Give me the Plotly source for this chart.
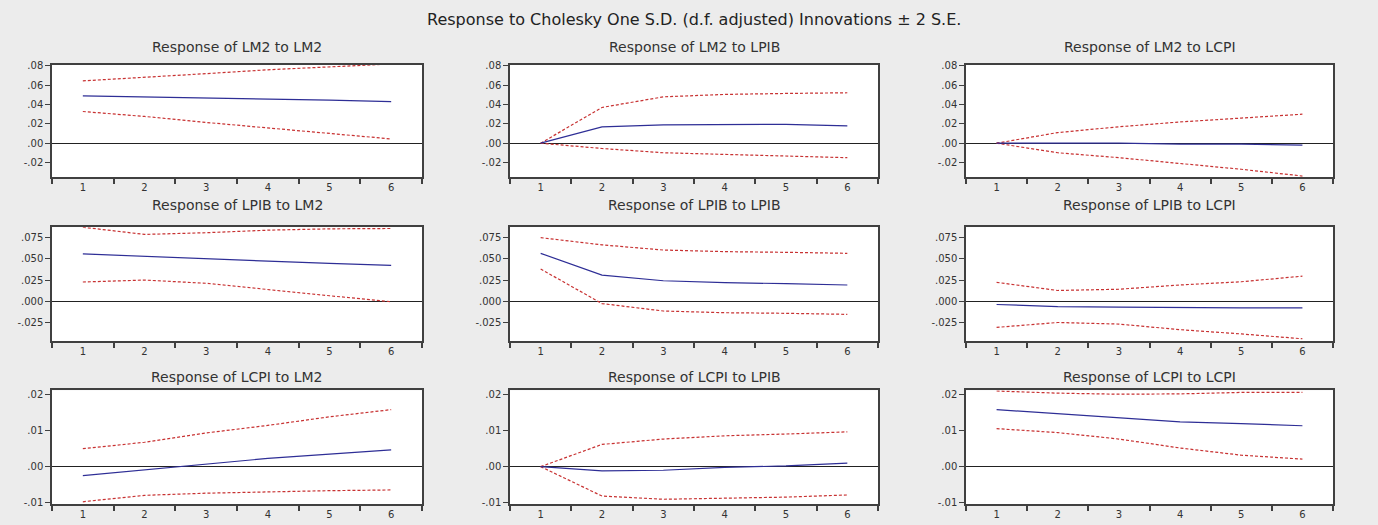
import plotly.graph_objects as go

periods = [1, 2, 3, 4, 5, 6]

# Row 1: Response of LM2
lm2_lm2 = [0.049, 0.048, 0.047, 0.046, 0.0445, 0.043]
lm2_lm2_up = [0.0645, 0.068, 0.072, 0.076, 0.079, 0.082]
lm2_lm2_lo = [0.0328, 0.0277, 0.0215, 0.0157, 0.0106, 0.0044]

lm2_lpib = [0.0, 0.0168, 0.019, 0.0195, 0.0195, 0.018]
lm2_lpib_up = [0.0, 0.037, 0.048, 0.0505, 0.0515, 0.0522]
lm2_lpib_lo = [0.0, -0.0055, -0.0099, -0.0116, -0.013, -0.015]

lm2_lcpi = [0.0, 0.0, 0.0, -0.001, -0.001, -0.002]
lm2_lcpi_up = [0.0, 0.011, 0.017, 0.022, 0.026, 0.030]
lm2_lcpi_lo = [0.0, -0.0099, -0.015, -0.021, -0.027, -0.034]

# Row 2: Response of LPIB
lpib_lm2 = [0.0558, 0.0527, 0.0496, 0.0473, 0.0446, 0.0423]
lpib_lm2_up = [0.0873, 0.0788, 0.0808, 0.0838, 0.0854, 0.0858]
lpib_lm2_lo = [0.0227, 0.025, 0.0212, 0.0135, 0.0065, -0.0005]

lpib_lpib = [0.0565, 0.0308, 0.0242, 0.0219, 0.0208, 0.0192]
lpib_lpib_up = [0.075, 0.0665, 0.0604, 0.0585, 0.0577, 0.0565]
lpib_lpib_lo = [0.038, -0.0027, -0.0115, -0.0135, -0.0142, -0.0154]

lpib_lcpi = [-0.0038, -0.0062, -0.0069, -0.0077, -0.0077, -0.0077]
lpib_lcpi_up = [0.0223, 0.0127, 0.0142, 0.0192, 0.023, 0.0296]
lpib_lcpi_lo = [-0.0308, -0.025, -0.0269, -0.0335, -0.0385, -0.0442]

# Row 3: Response of LCPI
lcpi_lm2 = [-0.0025, -0.0009, 0.0005, 0.0023, 0.0035, 0.0047]
lcpi_lm2_up = [0.005, 0.0068, 0.0094, 0.0115, 0.0139, 0.0159]
lcpi_lm2_lo = [-0.0098, -0.008, -0.0074, -0.007, -0.0067, -0.0065]

lcpi_lpib = [0.0, -0.0012, -0.001, -0.0002, 0.0002, 0.001]
lcpi_lpib_up = [0.0, 0.0062, 0.0077, 0.0086, 0.0091, 0.0097]
lcpi_lpib_lo = [0.0, -0.0082, -0.0091, -0.0088, -0.0085, -0.0079]

lcpi_lcpi = [0.0159, 0.0148, 0.0136, 0.0125, 0.012, 0.0114]
lcpi_lcpi_up = [0.0211, 0.0205, 0.0202, 0.0203, 0.0207, 0.0207]
lcpi_lcpi_lo = [0.0106, 0.0095, 0.0077, 0.0052, 0.0032, 0.0021]

titles = [
    "Response of LM2 to LM2", "Response of LM2 to LPIB", "Response of LM2 to LCPI",
    "Response of LPIB to LM2", "Response of LPIB to LPIB", "Response of LPIB to LCPI",
    "Response of LCPI to LM2", "Response of LCPI to LPIB", "Response of LCPI to LCPI",
]
main_title = "Response to Cholesky One S.D. (d.f. adjusted) Innovations \u00b1 2 S.E."

series = [
    (lm2_lm2, lm2_lm2_up, lm2_lm2_lo), (lm2_lpib, lm2_lpib_up, lm2_lpib_lo), (lm2_lcpi, lm2_lcpi_up, lm2_lcpi_lo),
    (lpib_lm2, lpib_lm2_up, lpib_lm2_lo), (lpib_lpib, lpib_lpib_up, lpib_lpib_lo), (lpib_lcpi, lpib_lcpi_up, lpib_lcpi_lo),
    (lcpi_lm2, lcpi_lm2_up, lcpi_lm2_lo), (lcpi_lpib, lcpi_lpib_up, lcpi_lpib_lo), (lcpi_lcpi, lcpi_lcpi_up, lcpi_lcpi_lo),
]

row_yticks = [
    ([-0.02, 0.0, 0.02, 0.04, 0.06, 0.08], ["-.02", ".00", ".02", ".04", ".06", ".08"], [-0.035, 0.081]),
    ([-0.025, 0.0, 0.025, 0.05, 0.075], ["-.025", ".000", ".025", ".050", ".075"], [-0.047, 0.0874]),
    ([-0.01, 0.0, 0.01, 0.02], ["-.01", ".00", ".01", ".02"], [-0.0105, 0.0213]),
]

W, H = 1378, 525
col_px = [(52, 422), (510, 878), (966, 1333)]
row_px = [(61, 175), (226, 342), (392, 508)]
title_y_px = [43, 203, 378]

FONT = "DejaVu Sans, Liberation Sans, sans-serif"
TXT = "#333333"
BLUE = "#2e2e96"
RED = "#c83232"
FRAME = "#404040"

fig = go.Figure()
layout = dict(
    width=W, height=H,
    margin=dict(l=0, r=0, t=0, b=0),
    paper_bgcolor="#ececec",
    plot_bgcolor="#ffffff",
    showlegend=False,
    font=dict(family=FONT, color=TXT, size=10),
)
annotations = [dict(text=main_title, x=694 / W, y=1 - 15 / H, xref="paper", yref="paper",
                    showarrow=False, font=dict(size=16, family=FONT, color="#222222"),
                    xanchor="center", yanchor="middle")]

for i, (mid, up, lo) in enumerate(series):
    r, c = divmod(i, 3)
    idx = i + 1
    xa = "x" if idx == 1 else f"x{idx}"
    ya = "y" if idx == 1 else f"y{idx}"
    for vals, color, dash in ((up, RED, "3px,2px"), (lo, RED, "3px,2px"), (mid, BLUE, "solid")):
        fig.add_trace(go.Scatter(x=periods, y=vals, mode="lines", xaxis=xa, yaxis=ya,
                                 line=dict(color=color, width=1.2, dash=dash), hoverinfo="skip"))
    x0, x1 = col_px[c]
    y0, y1 = row_px[r]
    tv, tt, rng = row_yticks[r]
    layout["xaxis" if idx == 1 else f"xaxis{idx}"] = dict(
        domain=[x0 / W, x1 / W], anchor=ya, range=[0.5, 6.5],
        tickmode="array", tickvals=periods, ticktext=[str(p) for p in periods], ticks="",
        minor=dict(tickmode="array", tickvals=[0.5, 1.5, 2.5, 3.5, 4.5, 5.5, 6.5],
                   ticks="outside", ticklen=5, tickwidth=1.5, tickcolor=FRAME, showgrid=False),
        showgrid=False, zeroline=False, showline=True, mirror=True,
        linecolor=FRAME, linewidth=1.5, tickfont=dict(size=10, color=TXT, family=FONT),
        fixedrange=True,
    )
    layout["yaxis" if idx == 1 else f"yaxis{idx}"] = dict(
        domain=[1 - y1 / H, 1 - y0 / H], anchor=xa, range=rng,
        tickmode="array", tickvals=tv, ticktext=tt, ticks="outside", ticklen=5,
        tickwidth=1, tickcolor=FRAME,
        showgrid=False, zeroline=True, zerolinecolor="#222222", zerolinewidth=1,
        showline=True, mirror=True, linecolor=FRAME, linewidth=1.5,
        tickfont=dict(size=10, color=TXT, family=FONT), fixedrange=True,
    )
    annotations.append(dict(text=titles[i], x=(x0 + x1) / 2 / W, y=1 - title_y_px[r] / H,
                            xref="paper", yref="paper", showarrow=False,
                            font=dict(size=14, family=FONT, color=TXT),
                            xanchor="center", yanchor="middle"))

layout["annotations"] = annotations
fig.update_layout(**layout)
fig.write_html("out.html", config={"displayModeBar": False},
               post_script="document.body.style.margin='0';document.body.style.background='#ececec';")
